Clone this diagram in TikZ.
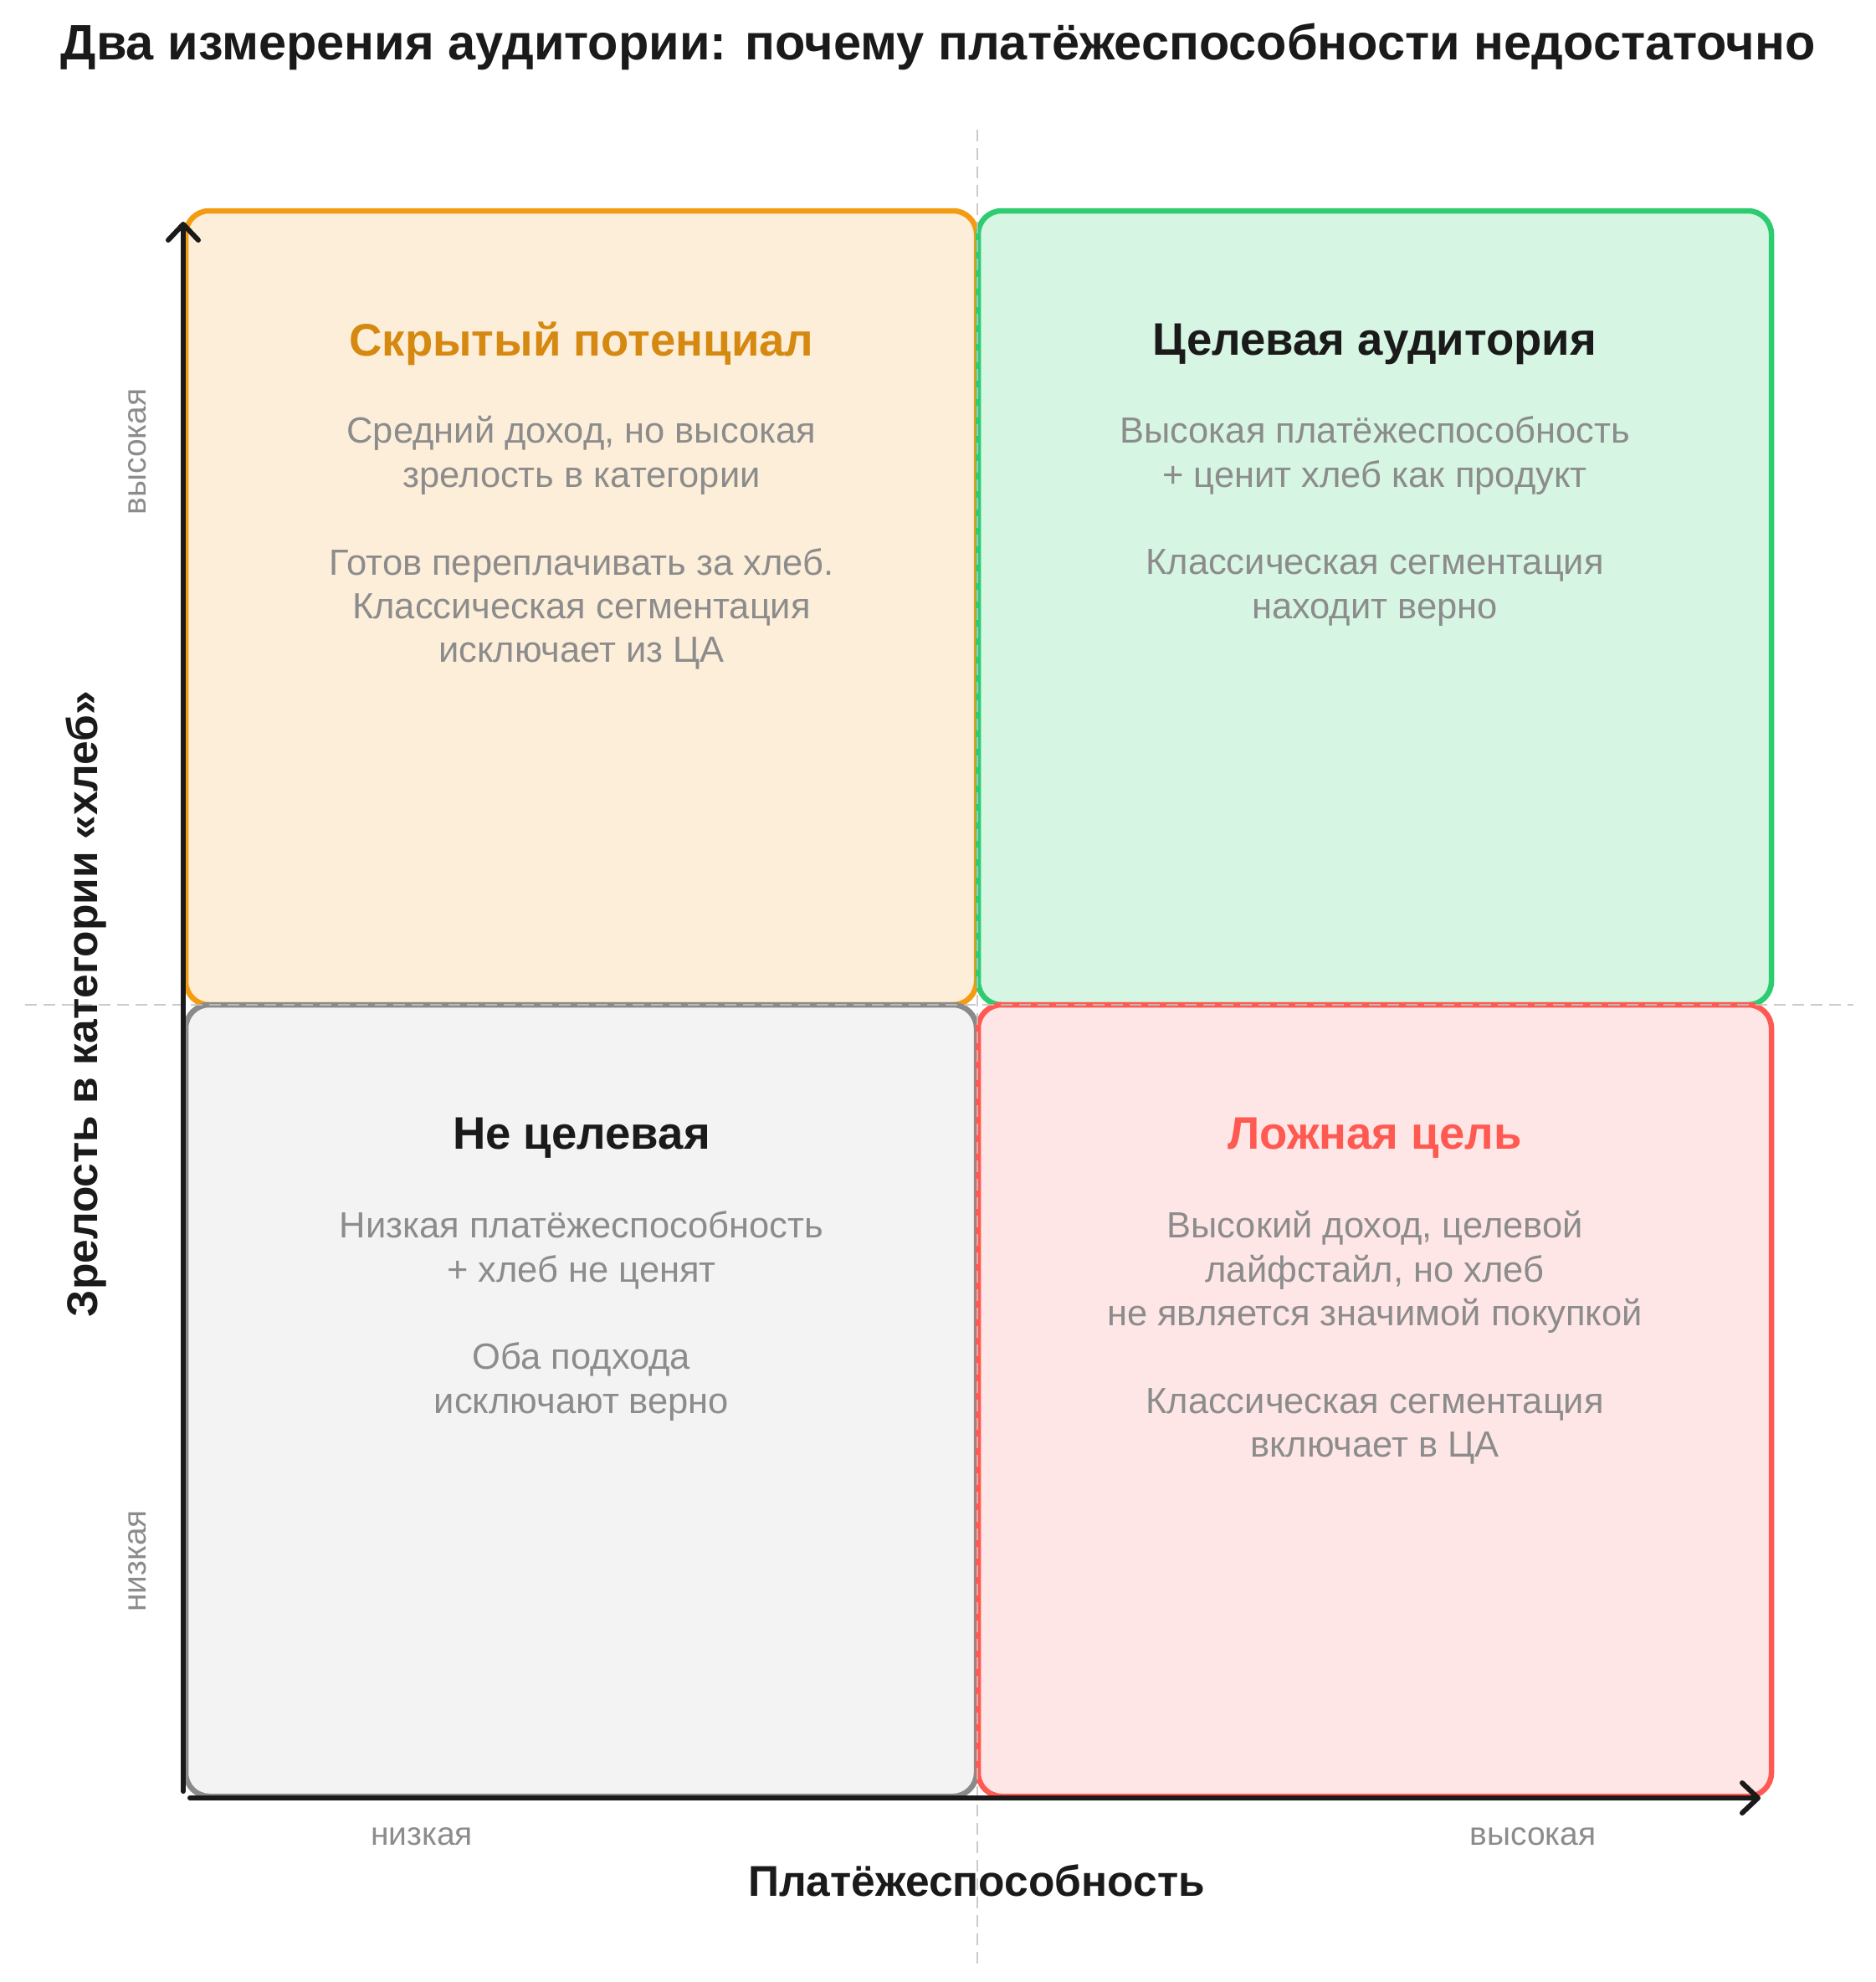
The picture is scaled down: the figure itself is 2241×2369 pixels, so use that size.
\documentclass[tikz,border=0pt]{standalone}
\usepackage{fontspec}
\setmainfont{Liberation Sans}
\usetikzlibrary{arrows.meta}

\definecolor{inkdark}{HTML}{1A1A1A}
\definecolor{inkgray}{HTML}{8C8C8C}
\definecolor{gridgray}{HTML}{C2C2C2}
\definecolor{orangeline}{HTML}{F39C12}
\definecolor{orangefill}{HTML}{FDEEDA}
\definecolor{orangetext}{HTML}{D68910}
\definecolor{greenline}{HTML}{2ECC71}
\definecolor{greenfill}{HTML}{D6F5E3}
\definecolor{grayline}{HTML}{8A8A8A}
\definecolor{grayfill}{HTML}{F3F3F3}
\definecolor{redline}{HTML}{FF5A52}
\definecolor{redfill}{HTML}{FFE6E6}

\tikzset{
  quad/.style={line width=6.5pt, rounded corners=28pt},
  heading/.style={font=\fontsize{54.5}{60}\selectfont\bfseries},
  body/.style={font=\fontsize{43.5}{52.4}\selectfont, text=inkgray, align=center},
  ticklabel/.style={font=\fontsize{39}{44}\selectfont, text=inkgray},
  axistitle/.style={font=\fontsize{51.5}{58}\selectfont\bfseries, text=inkdark},
  axis/.style={line width=6pt, line cap=round, draw=inkdark,
    -{Straight Barb[length=19pt, width=36pt, round]}},
  guide/.style={line width=2.5pt, draw=gridgray, dash pattern=on 14pt off 8pt}
}

\begin{document}
\begin{tikzpicture}[x=1pt, y=-1pt]

  \useasboundingbox (0,0) rectangle (2241,2369);

  % Title
  \node[font=\fontsize{59.5}{66}\selectfont\bfseries, text=inkdark] (title) at (1121,56)
    {Два измерения аудитории: почему платёжеспособности недостаточно};

  % Quadrant boxes
  \draw[quad, draw=orangeline, fill=orangefill] (222,252) rectangle (1167,1201);
  \draw[quad, draw=greenline, fill=greenfill] (1169,252) rectangle (2117,1201);
  \draw[quad, draw=grayline, fill=grayfill] (222,1201) rectangle (1167,2147);
  \draw[quad, draw=redline, fill=redfill] (1169,1201) rectangle (2117,2147);

  % Dashed guide lines through the middle
  \coordinate (vtop) at (1168,155);
  \coordinate (vbot) at (1168,2352);
  \coordinate (hleft) at (30,1201);
  \coordinate (hright) at (2215,1201);
  \draw[guide, opacity=0.85] (vtop) -- (vbot);
  \draw[guide, opacity=0.85] (hleft) -- (hright);

  % Axes
  \coordinate (ybot) at (219,2141);
  \coordinate (ytop) at (219,265);
  \coordinate (xleft) at (227,2149);
  \coordinate (xright) at (2104,2149);
  \draw[axis] (ybot) -- (ytop);
  \draw[axis] (xleft) -- (xright);

  % Top left: hidden potential
  \node[heading, text=orangetext] (hidden) at (695,411) {Скрытый потенциал};
  \node[body] (hiddentext) at (695,649)
    {Средний доход, но высокая\\зрелость в категории\\[52.4pt]Готов переплачивать за хлеб.\\Классическая сегментация\\исключает из ЦА};

  % Top right: target audience
  \node[heading, text=inkdark] (target) at (1643,411) {Целевая аудитория};
  \node[body] (targettext) at (1643,623)
    {Высокая платёжеспособность\\+ ценит хлеб как продукт\\[52.4pt]Классическая сегментация\\находит верно};

  % Bottom left: not target
  \node[heading, text=inkdark] (nottarget) at (695,1360) {Не целевая};
  \node[body] (nottargettext) at (695,1573)
    {Низкая платёжеспособность\\+ хлеб не ценят\\[52.4pt]Оба подхода\\исключают верно};

  % Bottom right: false target
  \node[heading, text=redline] (falsetarget) at (1643,1360) {Ложная цель};
  \node[body] (falsetargettext) at (1643,1599)
    {Высокий доход, целевой\\лайфстайл, но хлеб\\не является значимой покупкой\\[52.4pt]Классическая сегментация\\включает в ЦА};

  % Axis labels
  \node[ticklabel] (xlow) at (504,2195) {низкая};
  \node[ticklabel] (xhigh) at (1832,2195) {высокая};
  \node[ticklabel, rotate=90] (yhigh) at (164,540) {высокая};
  \node[ticklabel, rotate=90] (ylow) at (164,1866) {низкая};
  \node[axistitle] (xtitle) at (1167,2248) {Платёжеспособность};
  \node[axistitle, rotate=90] (ytitle) at (103,1200) {Зрелость в категории «хлеб»};

\end{tikzpicture}
\end{document}
